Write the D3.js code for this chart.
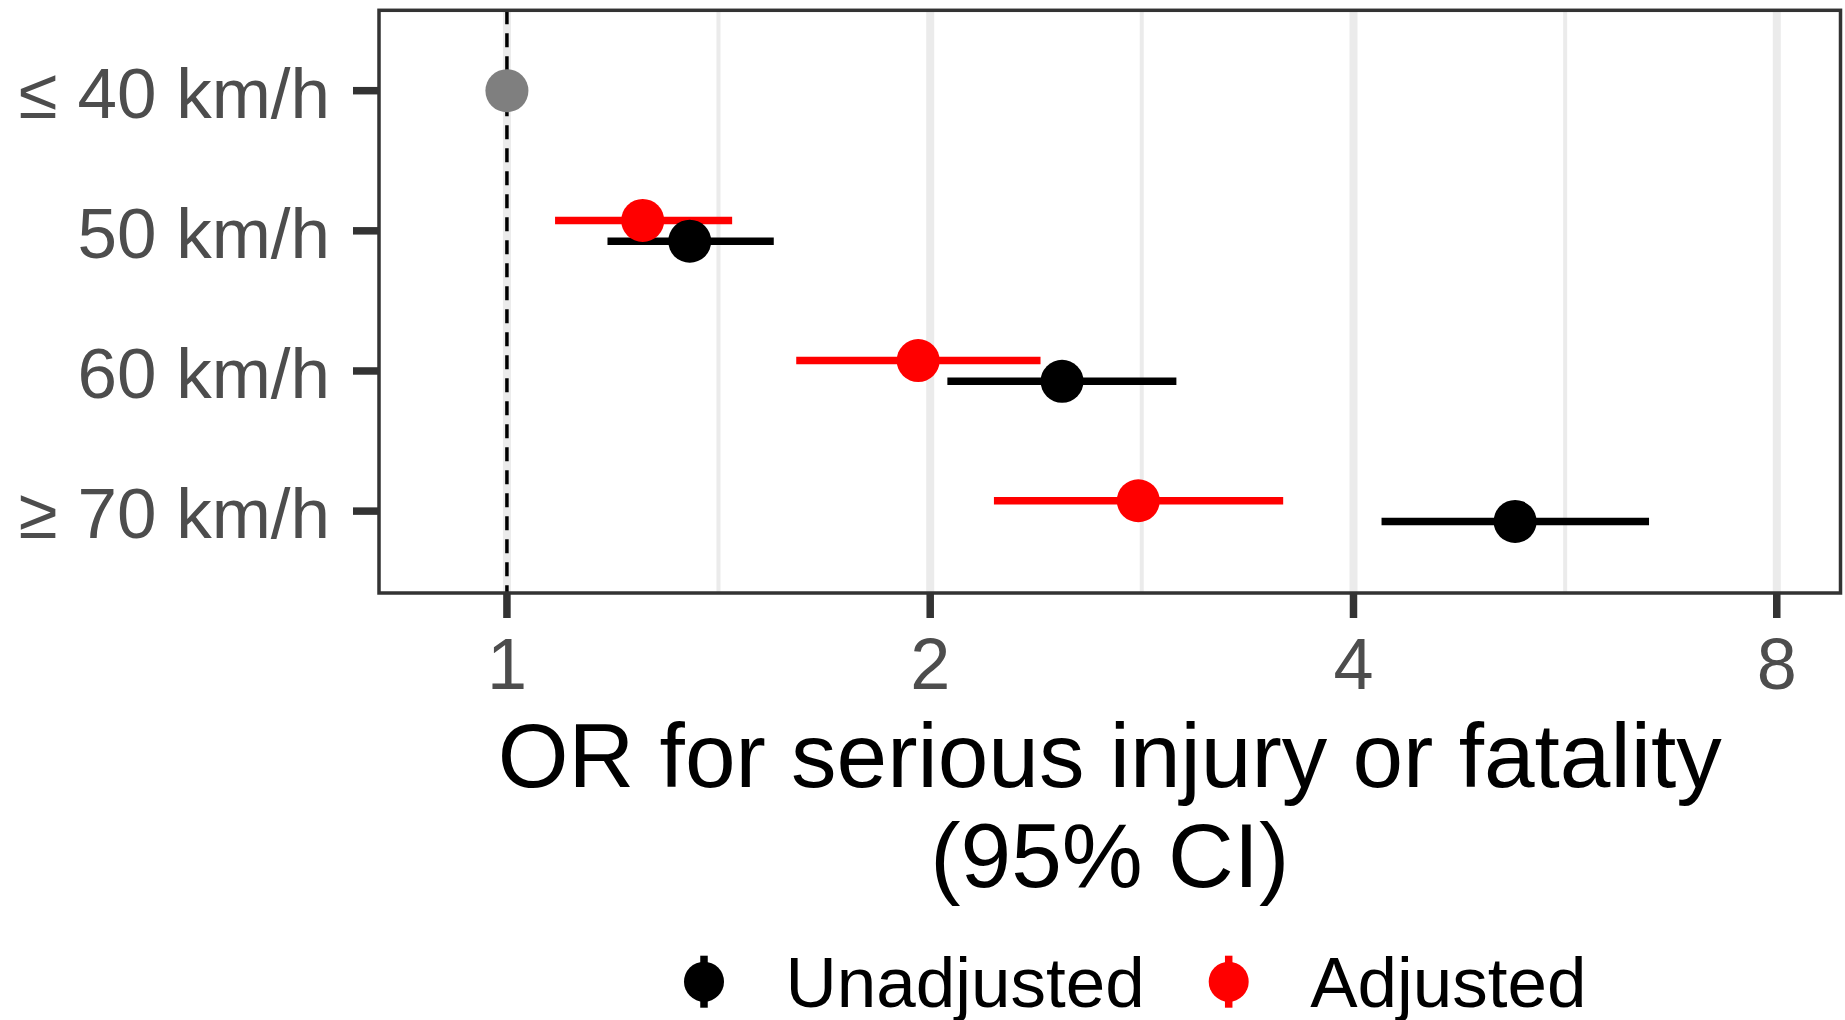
<!DOCTYPE html>
<html><head><meta charset="utf-8">
<script src="https://cdn.jsdelivr.net/npm/d3@7"></script>
<style>body{margin:0;background:#fff}</style>
</head><body>
<svg id="chart" width="1845" height="1020"></svg>
<script>
// ---- data ----
const categories = ["≤ 40 km/h", "50 km/h", "60 km/h", "≥ 70 km/h"];
const seriesNames = ["Unadjusted", "Adjusted"];
const seriesColors = ["#000000", "#ff0000"];
const refCategory = "≤ 40 km/h";
const refValue = 1;
const refColor = "#7f7f7f";
const unadjEst  = [null, 1.349, 2.482, 5.212];
const unadjLow  = [null, 1.179, 2.057, 4.188];
const unadjHigh = [null, 1.548, 2.993, 6.490];
const adjEst    = [null, 1.249, 1.961, 2.812];
const adjLow    = [null, 1.082, 1.606, 2.220];
const adjHigh   = [null, 1.446, 2.396, 3.565];
const xTicks = [1, 2, 4, 8];
const xTickLabels = ["1", "2", "4", "8"];
const xMinorTicks = [1.414, 2.828, 5.657];
const xLimits = [0.811, 8.88];
const xTitle = ["OR for serious injury or fatality", "(95% CI)"];

// ---- layout ----
const W = 1845, H = 1020;
const panel = {left: 379, right: 1840.5, top: 10.3, bottom: 593};
const font = "'Liberation Sans', Arial, Helvetica, sans-serif";
const svg = d3.select("#chart");

const x = d3.scaleLog().base(2).domain(xLimits).range([panel.left, panel.right]);
const y = d3.scalePoint().domain(categories).range([6.6, 595.2]).padding(0.6);
const dodge = y.step() * 0.074;

const series = [
  {name: seriesNames[0], color: seriesColors[0], est: unadjEst, low: unadjLow, high: unadjHigh, off: +dodge},
  {name: seriesNames[1], color: seriesColors[1], est: adjEst, low: adjLow, high: adjHigh, off: -dodge}
];

// grid
const g = svg.append("g");
g.selectAll(".minor").data(xMinorTicks).join("line")
  .attr("x1", d => x(d)).attr("x2", d => x(d))
  .attr("y1", panel.top).attr("y2", panel.bottom)
  .attr("stroke", "#ebebeb").attr("stroke-width", 4);
g.selectAll(".major").data(xTicks).join("line")
  .attr("x1", d => x(d)).attr("x2", d => x(d))
  .attr("y1", panel.top).attr("y2", panel.bottom)
  .attr("stroke", "#ebebeb").attr("stroke-width", 8);

// reference dashed line
g.append("line")
  .attr("x1", x(refValue)).attr("x2", x(refValue))
  .attr("y1", panel.top).attr("y2", panel.bottom)
  .attr("stroke", "#000").attr("stroke-width", 3.5)
  .attr("stroke-dasharray", "14,9");

// error bars (all lines first)
const rows = [];
series.forEach(s => categories.forEach((c, i) => {
  if (s.est[i] != null) rows.push({c, est: s.est[i], low: s.low[i], high: s.high[i], color: s.color, off: s.off});
}));
g.selectAll(".bar").data(rows).join("line")
  .attr("x1", d => x(d.low)).attr("x2", d => x(d.high))
  .attr("y1", d => y(d.c) + d.off).attr("y2", d => y(d.c) + d.off)
  .attr("stroke", d => d.color).attr("stroke-width", 7.5).attr("stroke-linecap", "butt");
// points
g.selectAll(".pt").data(rows).join("circle")
  .attr("cx", d => x(d.est)).attr("cy", d => y(d.c) + d.off).attr("r", 21.5)
  .attr("fill", d => d.color);
g.append("circle").attr("cx", x(refValue)).attr("cy", y(refCategory)).attr("r", 21.5).attr("fill", refColor);

// panel border
svg.append("rect")
  .attr("x", panel.left).attr("y", panel.top)
  .attr("width", panel.right - panel.left).attr("height", panel.bottom - panel.top)
  .attr("fill", "none").attr("stroke", "#333333").attr("stroke-width", 3.5);

// y axis
const ya = svg.append("g");
ya.selectAll("line").data(categories).join("line")
  .attr("x1", panel.left - 26).attr("x2", panel.left)
  .attr("y1", d => y(d)).attr("y2", d => y(d))
  .attr("stroke", "#333333").attr("stroke-width", 7.5);
ya.selectAll("text").data(categories).join("text")
  .attr("x", 330).attr("y", d => y(d) + 27)
  .attr("text-anchor", "end").attr("font-family", font).attr("font-size", 71)
  .attr("fill", "#4d4d4d").text(d => d);

// x axis
const xa = svg.append("g");
xa.selectAll("line").data(xTicks).join("line")
  .attr("x1", d => x(d)).attr("x2", d => x(d))
  .attr("y1", panel.bottom).attr("y2", panel.bottom + 25)
  .attr("stroke", "#333333").attr("stroke-width", 7.5);
xa.selectAll("text").data(xTicks).join("text")
  .attr("x", d => x(d)).attr("y", 689)
  .attr("text-anchor", "middle").attr("font-family", font).attr("font-size", 72)
  .attr("fill", "#4d4d4d").text((d, i) => xTickLabels[i]);

// x title
const cx = (panel.left + panel.right) / 2;
svg.selectAll(".xt").data(xTitle).join("text")
  .attr("x", cx).attr("y", (d, i) => 787 + i * 99.5)
  .attr("text-anchor", "middle").attr("font-family", font).attr("font-size", 91)
  .attr("fill", "#000").text(d => d);

// legend
const leg = svg.append("g");
let kx = 704;
const ky = 981.7;
series.forEach(s => {
  leg.append("line").attr("x1", kx).attr("x2", kx).attr("y1", ky - 26).attr("y2", ky + 26)
    .attr("stroke", s.color).attr("stroke-width", 7.5);
  leg.append("circle").attr("cx", kx).attr("cy", ky).attr("r", 20).attr("fill", s.color);
  const t = leg.append("text").attr("x", kx + 81.5).attr("y", 1007)
    .attr("font-family", font).attr("font-size", 71).attr("fill", "#000").text(s.name);
  kx = kx + 81.5 + t.node().getComputedTextLength() + 84;
});
</script>
</body></html>
